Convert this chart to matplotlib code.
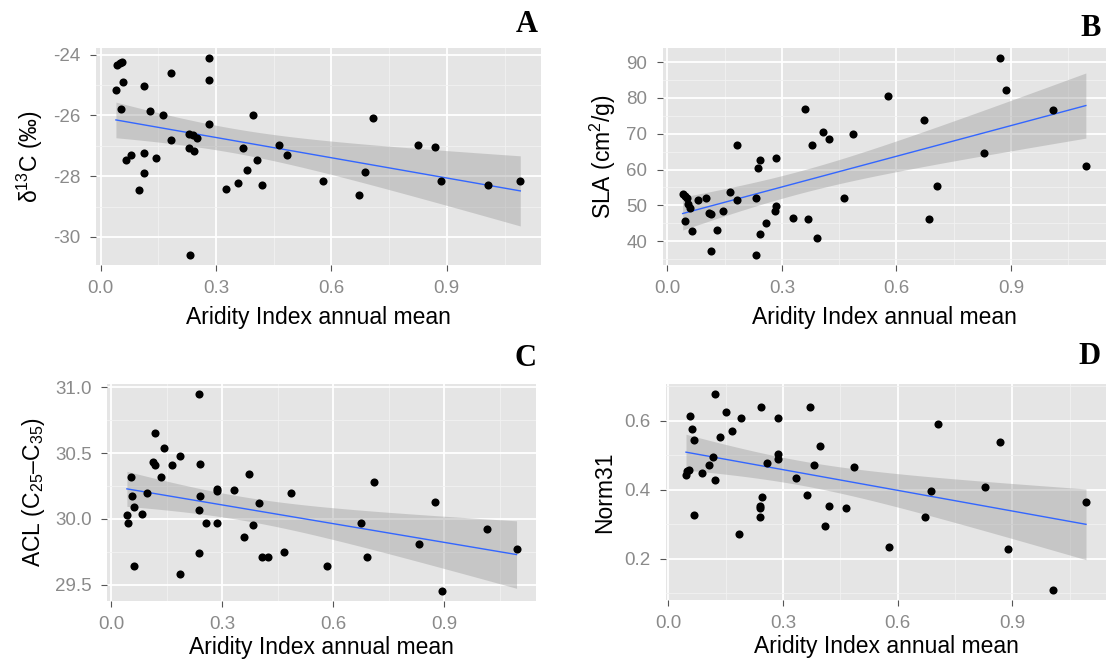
import numpy as np
import matplotlib
matplotlib.use("Agg")
import matplotlib.pyplot as plt
from matplotlib.ticker import MultipleLocator

plt.rcParams["font.family"] = ["Liberation Sans", "DejaVu Sans"]
plt.rcParams["mathtext.fontset"] = "custom"
plt.rcParams["mathtext.rm"] = "Liberation Sans"
plt.rcParams["mathtext.it"] = "Liberation Sans:italic"
plt.rcParams["axes.unicode_minus"] = False

# ---- data ----
a_x = [0.040, 0.044, 0.050, 0.055, 0.059, 0.054, 0.065, 0.080, 0.099, 0.113, 0.113,
       0.113, 0.129, 0.144, 0.163, 0.183, 0.183, 0.231, 0.231, 0.233, 0.242, 0.240,
       0.251, 0.282, 0.282, 0.282, 0.327, 0.357, 0.371, 0.380, 0.395, 0.406, 0.420,
       0.465, 0.485, 0.579, 0.672, 0.687, 0.707, 0.826, 0.870, 0.884, 1.008, 1.091]
a_y = [-25.16, -24.36, -24.28, -24.23, -24.92, -25.79, -27.48, -27.29, -28.47, -25.05,
       -27.23, -27.91, -25.86, -27.41, -25.98, -24.60, -26.80, -26.62, -27.09, -30.60,
       -27.17, -26.64, -26.74, -24.11, -24.85, -26.29, -28.42, -28.23, -27.09, -27.79,
       -25.98, -27.48, -28.29, -26.97, -27.29, -28.17, -28.61, -27.86, -26.10, -26.97,
       -27.04, -28.17, -28.29, -28.17]

b_x = [0.040, 0.046, 0.051, 0.055, 0.060, 0.046, 0.065, 0.080, 0.101, 0.110, 0.115,
       0.115, 0.130, 0.145, 0.165, 0.183, 0.183, 0.233, 0.233, 0.237, 0.242, 0.242,
       0.257, 0.281, 0.285, 0.285, 0.330, 0.360, 0.369, 0.378, 0.393, 0.408, 0.423,
       0.462, 0.485, 0.578, 0.672, 0.686, 0.706, 0.828, 0.872, 0.887, 1.009, 1.096]
b_y = [53.2, 52.7, 52.1, 50.4, 49.4, 45.7, 42.9, 51.5, 52.1, 47.9, 47.7, 37.2, 43.1,
       48.3, 53.6, 51.5, 66.9, 52.1, 36.1, 60.4, 62.6, 41.9, 45.1, 48.3, 49.7, 63.2,
       46.6, 76.9, 46.2, 66.9, 40.9, 70.6, 68.4, 52.1, 70.0, 80.6, 73.8, 46.2, 55.3,
       64.7, 91.2, 82.3, 76.5, 61.0]

c_x = [0.043, 0.047, 0.054, 0.058, 0.063, 0.063, 0.083, 0.098, 0.114, 0.119, 0.119,
       0.134, 0.144, 0.165, 0.187, 0.187, 0.237, 0.237, 0.237, 0.241, 0.241, 0.257,
       0.287, 0.287, 0.287, 0.333, 0.359, 0.374, 0.384, 0.400, 0.409, 0.425, 0.466,
       0.485, 0.583, 0.674, 0.690, 0.710, 0.831, 0.874, 0.894, 1.015, 1.095]
c_y = [30.03, 29.97, 30.32, 30.17, 30.09, 29.64, 30.04, 30.20, 30.43, 30.41, 30.65,
       30.32, 30.54, 30.41, 30.48, 29.58, 30.95, 30.07, 29.74, 30.42, 30.17, 29.97,
       30.23, 30.21, 29.97, 30.22, 29.86, 30.34, 29.95, 30.12, 29.71, 29.71, 29.75,
       30.20, 29.64, 29.97, 29.71, 30.28, 29.81, 30.13, 29.45, 29.92, 29.77]

d_x = [0.046, 0.049, 0.053, 0.056, 0.062, 0.068, 0.068, 0.087, 0.106, 0.117, 0.121,
       0.121, 0.136, 0.151, 0.166, 0.185, 0.190, 0.239, 0.240, 0.240, 0.243, 0.244,
       0.258, 0.288, 0.288, 0.288, 0.333, 0.362, 0.371, 0.381, 0.396, 0.411, 0.421,
       0.465, 0.485, 0.577, 0.672, 0.686, 0.706, 0.829, 0.868, 0.888, 1.006, 1.093]
d_y = [0.444, 0.454, 0.458, 0.613, 0.575, 0.543, 0.326, 0.449, 0.473, 0.495, 0.678,
       0.429, 0.553, 0.624, 0.570, 0.272, 0.608, 0.320, 0.348, 0.353, 0.639, 0.380,
       0.478, 0.608, 0.505, 0.488, 0.434, 0.386, 0.639, 0.473, 0.526, 0.294, 0.353,
       0.348, 0.467, 0.233, 0.321, 0.396, 0.590, 0.407, 0.537, 0.229, 0.109, 0.365]

# letter, x, y, y-title, y step, panel box (px), letter anchor (px), xlabel pad
panels = [
    ("A", a_x, a_y, r"δ$^{13}$C (‰)", 2, [95.7, 48, 540.5, 265], (538, 25), 6),
    ("B", b_x, b_y, r"SLA (cm$^{2}$/g)", 10, [662.5, 48, 1106, 265], (1101, 29), 6),
    ("C", c_x, c_y, r"ACL (C$_{25}$–C$_{35}$)", 0.5, [107.4, 384, 536, 601], (537, 358), 2),
    ("D", d_x, d_y, "Norm31", 0.2, [666, 384, 1106, 600], (1101, 356), 2),
]

W, H = 1107, 662
fig = plt.figure(figsize=(W / 100, H / 100), dpi=100)

for letter, xs, ys, ylab, ystep, (l, t, r, b), (lx, ly), xpad in panels:
    ax = fig.add_axes([l / W, 1 - b / H, (r - l) / W, (b - t) / H])
    ax.set_facecolor("#E5E5E5")
    for s in ax.spines.values():
        s.set_visible(False)

    x = np.array(xs)
    y = np.array(ys)
    n = len(x)
    slope, icept = np.polyfit(x, y, 1)
    xf = np.linspace(x.min(), x.max(), 80)
    yf = icept + slope * xf
    resid = y - (icept + slope * x)
    s_err = np.sqrt(np.sum(resid ** 2) / (n - 2))
    se = s_err * np.sqrt(1 / n + (xf - x.mean()) ** 2 / np.sum((x - x.mean()) ** 2))
    tval = 2.02
    ax.fill_between(xf, yf - tval * se, yf + tval * se, color="#999999", alpha=0.4,
                    lw=0, zorder=2)
    ax.plot(xf, yf, color="#3366FF", lw=1.0, zorder=3)
    ax.scatter(x, y, s=34, color="black", lw=0, zorder=4)

    ax.margins(x=0.05, y=0.05)
    ax.xaxis.set_major_locator(MultipleLocator(0.3))
    ax.xaxis.set_minor_locator(MultipleLocator(0.15))
    ax.yaxis.set_major_locator(MultipleLocator(ystep))
    ax.yaxis.set_minor_locator(MultipleLocator(ystep / 2))
    ax.grid(which="major", color="white", lw=1.3, zorder=0)
    ax.grid(which="minor", color="#F2F2F2", lw=0.6, zorder=0)
    ax.set_axisbelow(True)
    ax.set_xticks([0.0, 0.3, 0.6, 0.9])
    ax.set_xticklabels(["0.0", "0.3", "0.6", "0.9"])
    ax.tick_params(which="major", length=4, color="#555555", labelcolor="#8A8A8A",
                   labelsize=13.5, pad=7)
    ax.tick_params(which="minor", length=0)
    ax.set_xlabel("Aridity Index annual mean", fontsize=16.5, labelpad=xpad)
    ax.set_ylabel(ylab, fontsize=16.5, labelpad=6)

    fig.text(lx / W, 1 - ly / H, letter, ha="right", va="center",
             fontsize=22, fontweight="bold", family="Liberation Serif")

fig.savefig("out.png", dpi=100, facecolor="white")
